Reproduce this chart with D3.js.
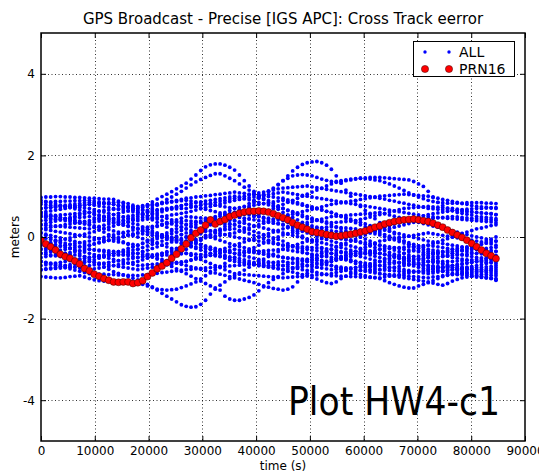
<!DOCTYPE html>
<html><head><meta charset="utf-8">
<script src="https://cdn.jsdelivr.net/npm/d3@7"></script>
<style>
html,body{margin:0;padding:0;background:#fff;}
svg{display:block;}
text{font-family:"DejaVu Sans",sans-serif;fill:#000;}
</style></head><body>
<svg id="chart" width="539" height="476"></svg>
<script>
// Epoch times (s), 15-minute sampling over the day
const timeSec = [0,900,1800,2700,3600,4500,5400,6300,7200,8100,
  9000,9900,10800,11700,12600,13500,14400,15300,16200,17100,
  18000,18900,19800,20700,21600,22500,23400,24300,25200,26100,
  27000,27900,28800,29700,30600,31500,32400,33300,34200,35100,
  36000,36900,37800,38700,39600,40500,41400,42300,43200,44100,
  45000,45900,46800,47700,48600,49500,50400,51300,52200,53100,
  54000,54900,55800,56700,57600,58500,59400,60300,61200,62100,
  63000,63900,64800,65700,66600,67500,68400,69300,70200,71100,
  72000,72900,73800,74700,75600,76500,77400,78300,79200,80100,
  81000,81900,82800,83700,84600];

// PRN16 cross-track error (m)
const prn16 = [-0.08,-0.17,-0.24,-0.32,-0.42,-0.48,-0.52,-0.59,-0.66,-0.77,
  -0.83,-0.91,-0.96,-1.02,-1.06,-1.10,-1.11,-1.10,-1.10,-1.14,
  -1.12,-1.07,-0.97,-0.88,-0.78,-0.71,-0.63,-0.52,-0.42,-0.29,
  -0.17,-0.02,0.09,0.17,0.29,0.42,0.32,0.38,0.43,0.50,
  0.54,0.58,0.61,0.63,0.63,0.64,0.63,0.61,0.57,0.52,
  0.47,0.42,0.35,0.29,0.24,0.19,0.13,0.11,0.09,0.06,
  0.04,0.02,0.03,0.05,0.07,0.09,0.12,0.15,0.19,0.24,
  0.27,0.32,0.35,0.38,0.40,0.42,0.43,0.44,0.42,0.40,
  0.38,0.34,0.29,0.24,0.17,0.11,0.05,-0.01,-0.08,-0.16,
  -0.24,-0.32,-0.40,-0.46,-0.53];

// Cross-track error of every satellite (cm), one array per satellite
const sv01 = [60,62,64,66,68,70,72,74,76,78,80,81,82,83,84,85,85,85,82,78,74,74,79,86,93,99,105,111,118,125,132,142,152,163,172,177,179,179,176,171,164,152,138,125,112,100,92,84,76,68,60,54,48,42,36,30,27,24,21,18,15,14,13,12,11,10,11,12,13,14,15,18,21,24,27,30,33,36,39,42,45,46,47,48,49,50,49,48,47,46,45,44,43,42,41];
const sv02 = [-30,-32,-34,-36,-38,-40,-42,-44,-46,-48,-50,-49,-48,-47,-46,-45,-44,-43,-42,-41,-40,-36,-32,-28,-24,-20,-16,-12,-8,-4,0,6,12,18,24,30,36,42,48,54,60,67,75,82,90,97,105,111,118,128,138,150,162,171,178,182,184,185,182,176,166,150,132,115,100,88,75,65,55,45,35,26,17,8,-1,-10,-18,-26,-34,-42,-50,-55,-60,-65,-70,-75,-77,-79,-81,-83,-85,-86,-87,-88,-90];
const sv03 = [30,29,28,27,26,25,24,23,22,21,20,23,26,29,32,35,38,41,44,47,50,57,64,71,78,85,92,98,105,112,120,128,135,141,146,151,155,155,150,144,138,130,122,115,108,102,95,89,82,76,70,65,60,55,50,45,43,41,39,37,35,36,37,38,39,40,43,46,49,52,55,58,61,64,67,70,71,72,73,74,75,74,73,72,71,70,68,66,64,62,60,59,58,57,55];
const sv04 = [0,-3,-6,-9,-12,-15,-18,-21,-24,-27,-30,-32,-34,-36,-38,-40,-42,-44,-46,-48,-50,-48,-46,-44,-42,-40,-38,-36,-34,-32,-30,-22,-15,-8,0,5,12,19,26,33,40,51,62,73,84,95,103,112,120,129,138,144,150,152,153,152,150,146,142,139,136,136,136,138,140,142,144,145,146,146,146,145,144,143,142,141,140,136,130,124,112,98,85,77,70,65,60,58,56,54,50,49,48,47,45];
const sv05 = [-60,-62,-64,-66,-68,-70,-72,-74,-76,-78,-80,-78,-76,-74,-72,-70,-68,-66,-64,-62,-60,-56,-52,-48,-44,-40,-36,-32,-28,-24,-20,-15,-10,-5,0,5,10,15,20,25,30,35,40,45,50,55,60,65,70,75,80,85,90,95,100,105,110,115,120,125,130,134,138,140,142,143,144,143,142,140,138,134,130,125,120,114,108,103,98,94,90,87,85,84,83,83,83,83,84,84,84,84,83,83,82];
const sv06 = [97,98,98,99,99,98,98,97,97,96,95,95,94,93,93,92,88,82,75,68,60,54,48,42,36,30,24,18,12,6,0,-6,-12,-18,-24,-30,-35,-40,-45,-50,-55,-58,-61,-64,-67,-70,-70,-70,-70,-70,-70,-67,-64,-61,-58,-55,-50,-45,-40,-35,-30,-25,-20,-15,-10,-5,0,5,10,15,20,24,28,32,36,40,43,46,49,52,55,57,59,61,63,65,66,67,68,69,70,70,71,71,72];
const sv07 = [10,4,-2,-8,-14,-20,-27,-34,-41,-48,-55,-61,-67,-73,-79,-85,-89,-93,-97,-101,-105,-110,-116,-122,-130,-138,-145,-152,-159,-166,-170,-172,-171,-165,-155,-140,-128,-118,-110,-102,-95,-88,-81,-74,-67,-60,-54,-48,-42,-36,-30,-26,-22,-18,-14,-10,-8,-6,-4,-2,0,-2,-4,-6,-8,-10,-14,-18,-22,-26,-30,-34,-38,-42,-46,-50,-52,-54,-56,-58,-60,-60,-60,-60,-60,-60,-59,-58,-57,-56,-55,-54,-53,-52,-50];
const sv08 = [50,48,46,44,42,40,38,36,34,32,30,24,18,12,6,0,-6,-12,-18,-24,-30,-36,-42,-48,-54,-60,-66,-72,-78,-84,-90,-96,-102,-108,-114,-120,-125,-130,-145,-152,-155,-155,-152,-148,-142,-132,-122,-112,-104,-97,-90,-84,-78,-72,-66,-60,-56,-52,-48,-44,-40,-39,-38,-37,-36,-35,-36,-37,-38,-39,-40,-42,-44,-46,-48,-50,-49,-48,-47,-46,-45,-42,-39,-36,-33,-30,-28,-26,-24,-22,-20,-18,-15,-12,-10];
const sv09 = [-50,-48,-46,-44,-42,-40,-38,-36,-34,-32,-30,-31,-32,-33,-34,-35,-36,-37,-38,-39,-40,-43,-46,-49,-52,-55,-58,-61,-64,-67,-70,-73,-76,-79,-82,-85,-88,-91,-94,-97,-100,-103,-106,-109,-112,-116,-120,-123,-126,-128,-130,-128,-122,-110,-98,-89,-80,-74,-68,-61,-55,-52,-49,-46,-43,-40,-40,-40,-40,-40,-40,-43,-46,-49,-52,-55,-59,-63,-67,-71,-75,-78,-81,-84,-87,-90,-92,-93,-94,-96,-98,-99,-100,-101,-102];
const sv10 = [-80,-79,-78,-77,-76,-75,-74,-73,-72,-71,-70,-68,-66,-64,-62,-60,-58,-56,-54,-52,-50,-49,-48,-47,-46,-45,-44,-43,-42,-41,-40,-41,-42,-43,-44,-45,-46,-47,-48,-49,-50,-53,-56,-59,-62,-65,-68,-71,-74,-77,-80,-83,-86,-89,-92,-95,-99,-103,-108,-112,-114,-110,-102,-96,-90,-86,-82,-81,-81,-80,-80,-81,-82,-83,-84,-85,-85,-85,-85,-85,-85,-84,-83,-82,-81,-80,-79,-78,-77,-76,-75,-74,-73,-72,-70];
const sv11 = [-30,-28,-26,-24,-22,-20,-18,-16,-14,-12,-10,-7,-4,-1,2,5,8,11,14,17,20,22,24,26,28,30,32,34,36,38,40,39,38,37,36,35,34,33,32,31,30,26,22,18,14,10,6,2,-2,-6,-10,-16,-22,-28,-34,-40,-46,-52,-58,-64,-70,-74,-78,-82,-86,-90,-92,-95,-98,-100,-102,-107,-112,-116,-120,-123,-125,-125,-120,-116,-112,-107,-102,-97,-92,-90,-88,-89,-90,-92,-95,-97,-100,-102,-105];
const sv12 = [-97,-98,-99,-100,-100,-99,-97,-96,-95,-98,-102,-105,-107,-108,-109,-110,-110,-110,-110,-111,-112,-116,-120,-124,-128,-129,-130,-129,-128,-124,-120,-115,-110,-103,-95,-88,-80,-72,-65,-57,-50,-44,-38,-32,-26,-20,-15,-10,-5,0,5,8,11,14,17,20,21,22,23,24,25,24,23,22,21,20,17,14,11,8,5,1,-3,-7,-11,-15,-19,-23,-27,-31,-35,-38,-41,-44,-47,-50,-52,-54,-56,-58,-60,-61,-62,-63,-65];
const sv13 = [70,71,72,73,74,75,76,77,78,79,80,78,76,74,72,70,68,66,64,62,60,56,52,48,44,40,36,32,28,24,20,16,12,8,4,0,-4,-8,-12,-16,-20,-23,-26,-29,-32,-35,-38,-41,-44,-47,-50,-52,-54,-56,-58,-60,-62,-64,-66,-68,-70,-72,-74,-76,-78,-80,-82,-84,-86,-88,-90,-92,-94,-96,-98,-100,-102,-104,-106,-108,-110,-113,-116,-118,-114,-108,-104,-100,-98,-96,-95,-96,-98,-101,-106];
const sv14 = [80,79,78,77,76,75,74,73,72,71,70,67,64,61,58,55,52,49,46,43,40,42,44,46,48,50,52,54,56,58,60,63,66,69,72,75,78,81,84,87,90,92,94,96,98,100,102,104,106,108,110,108,106,104,102,100,98,96,94,92,90,88,86,84,82,80,78,76,74,72,70,68,66,64,62,60,58,56,54,52,50,49,48,47,46,45,44,43,42,41,40,39,38,37,35];
const sv15 = [70,72,73,75,76,78,79,81,82,84,85,84,83,82,81,80,77,74,71,68,65,66,66,67,67,68,68,69,69,70,70,73,75,78,80,83,85,88,90,93,95,98,100,103,105,108,110,113,115,118,120,121,122,123,124,125,123,121,119,117,115,113,111,109,107,105,103,101,99,97,95,93,90,88,85,83,80,78,75,73,70,69,68,67,66,65,64,63,62,61,60,59,58,57,55];
const sv16 = [40,41,42,43,44,45,46,47,48,49,50,47,44,41,38,35,32,29,26,23,20,17,14,11,8,5,2,-1,-4,-7,-10,-8,-6,-4,-2,0,2,4,6,8,10,14,18,22,26,30,34,38,42,46,50,53,56,59,62,65,68,71,74,77,80,82,84,86,88,90,92,94,96,98,100,101,102,103,104,105,104,103,102,101,100,97,95,92,90,87,85,82,80,77,75,74,73,72,70];
const sv17 = [20,18,16,14,12,10,8,6,4,2,0,-2,-4,-6,-8,-10,-12,-14,-16,-18,-20,-16,-12,-8,-4,0,4,8,12,16,20,25,30,35,40,45,50,55,60,65,70,72,74,76,78,80,82,84,86,88,90,87,84,81,78,75,72,69,66,63,60,56,52,48,44,40,36,32,28,24,20,17,14,11,8,5,2,-1,-4,-7,-10,-12,-14,-16,-18,-20,-22,-24,-26,-28,-30,-31,-32,-33,-35];
const sv18 = [-40,-42,-44,-46,-48,-50,-52,-54,-56,-58,-60,-62,-64,-66,-68,-70,-72,-74,-76,-78,-80,-78,-76,-74,-72,-70,-68,-66,-64,-62,-60,-56,-52,-48,-44,-40,-36,-32,-28,-24,-20,-16,-12,-8,-4,0,4,8,12,16,20,23,26,29,32,35,38,41,44,47,50,51,52,53,54,55,56,57,58,59,60,57,54,51,48,45,42,39,36,33,30,27,24,21,18,15,12,9,6,3,0,-2,-5,-7,-10];
const sv19 = [-60,-63,-66,-69,-72,-75,-78,-81,-84,-87,-90,-90,-91,-91,-92,-92,-93,-93,-94,-94,-95,-93,-92,-90,-89,-87,-86,-84,-83,-81,-80,-79,-78,-77,-76,-75,-74,-73,-72,-71,-70,-69,-68,-67,-66,-65,-64,-63,-62,-61,-60,-62,-64,-66,-68,-70,-72,-74,-76,-78,-80,-79,-78,-77,-76,-75,-74,-73,-72,-71,-70,-68,-66,-64,-62,-60,-58,-56,-54,-52,-50,-49,-48,-47,-46,-45,-44,-43,-42,-41,-40,-39,-38,-37,-35];
const sv20 = [60,57,54,51,48,45,42,39,36,33,30,27,24,21,18,15,12,9,6,3,0,-4,-8,-12,-16,-20,-24,-28,-32,-36,-40,-45,-50,-55,-60,-65,-70,-75,-80,-85,-90,-91,-92,-93,-94,-95,-96,-97,-98,-99,-100,-99,-98,-97,-96,-95,-94,-93,-92,-91,-90,-87,-84,-81,-78,-75,-72,-69,-66,-63,-60,-56,-52,-48,-44,-40,-36,-32,-28,-24,-20,-16,-12,-8,-4,0,4,8,12,16,20,22,25,28,30];
const sv21 = [-20,-17,-14,-11,-8,-5,-2,1,4,7,10,13,17,20,24,27,31,34,38,41,45,48,52,55,59,62,66,69,73,76,80,82,84,86,88,90,92,94,96,98,100,97,94,91,88,85,82,79,76,73,70,66,62,58,54,50,46,42,38,34,30,25,20,15,10,5,0,-5,-10,-15,-20,-24,-28,-32,-36,-40,-44,-48,-52,-56,-60,-62,-64,-66,-68,-70,-72,-74,-76,-78,-80,-81,-82,-83,-85];
const sv22 = [10,7,4,1,-2,-5,-8,-11,-14,-17,-20,-17,-14,-11,-8,-5,-2,1,4,7,10,14,18,22,26,30,34,38,42,46,50,49,48,47,46,45,44,43,42,41,40,37,34,31,28,25,22,19,16,13,10,7,4,1,-2,-5,-8,-11,-14,-17,-20,-23,-26,-29,-32,-35,-38,-41,-44,-47,-50,-53,-56,-59,-62,-65,-68,-71,-74,-77,-80,-78,-76,-74,-72,-70,-68,-66,-64,-62,-60,-58,-56,-53,-50];
const sv23 = [50,51,52,53,54,55,56,57,58,59,60,57,54,51,48,45,42,39,36,33,30,25,20,15,10,5,0,-5,-10,-15,-20,-22,-24,-26,-28,-30,-32,-34,-36,-38,-40,-39,-38,-37,-36,-35,-34,-33,-32,-31,-30,-32,-34,-36,-38,-40,-42,-44,-46,-48,-50,-52,-54,-56,-58,-60,-62,-64,-66,-68,-70,-72,-74,-76,-78,-80,-82,-84,-86,-88,-90,-88,-86,-84,-82,-80,-78,-76,-74,-72,-70,-68,-65,-62,-60];
const sv24 = [-10,-13,-16,-19,-22,-25,-28,-31,-34,-37,-40,-43,-46,-49,-52,-55,-58,-61,-64,-67,-70,-69,-68,-67,-66,-65,-64,-63,-62,-61,-60,-57,-54,-51,-48,-45,-42,-39,-36,-33,-30,-32,-34,-36,-38,-40,-42,-44,-46,-48,-50,-51,-52,-53,-54,-55,-56,-57,-58,-59,-60,-57,-54,-51,-48,-45,-42,-39,-36,-33,-30,-29,-28,-27,-26,-25,-24,-23,-22,-21,-20,-22,-24,-26,-28,-30,-32,-34,-36,-38,-40,-41,-42,-44,-45];
const sv25 = [85,86,86,87,87,88,88,89,89,90,90,88,86,84,82,80,78,76,74,72,70,66,62,58,54,50,46,42,38,34,30,27,24,21,18,15,12,9,6,3,0,-2,-4,-6,-8,-10,-12,-14,-16,-18,-20,-21,-22,-23,-24,-25,-26,-27,-28,-29,-30,-33,-36,-39,-42,-45,-48,-51,-54,-57,-60,-61,-62,-63,-64,-65,-66,-67,-68,-69,-70,-72,-74,-76,-78,-80,-82,-84,-86,-88,-90,-91,-92,-94,-95];
const sv26 = [-80,-78,-76,-74,-72,-70,-68,-66,-64,-62,-60,-56,-52,-48,-44,-40,-36,-32,-28,-24,-20,-15,-10,-5,0,5,10,15,20,25,30,33,36,39,42,45,48,51,54,57,60,58,56,54,52,50,48,46,44,42,40,36,32,28,24,20,16,12,8,4,0,-2,-4,-6,-8,-10,-12,-14,-16,-18,-20,-22,-24,-26,-28,-30,-32,-34,-36,-38,-40,-39,-38,-37,-36,-35,-34,-33,-32,-31,-30,-29,-28,-26,-25];
const sv27 = [30,33,36,39,42,45,48,51,54,57,60,62,63,65,66,68,69,71,72,74,75,77,78,80,81,83,84,86,87,89,90,88,86,84,82,80,78,76,74,72,70,66,62,58,54,50,46,42,38,34,30,26,22,18,14,10,6,2,-2,-6,-10,-13,-16,-19,-22,-25,-28,-31,-34,-37,-40,-43,-46,-49,-52,-55,-58,-61,-64,-67,-70,-71,-72,-73,-74,-75,-76,-77,-78,-79,-80,-79,-78,-77,-75];
const sv28 = [-40,-38,-36,-34,-32,-30,-28,-26,-24,-22,-20,-17,-14,-11,-8,-5,-2,1,4,7,10,8,6,4,2,0,-2,-4,-6,-8,-10,-13,-16,-19,-22,-25,-28,-31,-34,-37,-40,-43,-46,-49,-52,-55,-58,-61,-64,-67,-70,-72,-75,-77,-80,-82,-85,-87,-90,-92,-95,-95,-96,-96,-97,-97,-98,-98,-99,-99,-100,-98,-96,-94,-92,-90,-88,-86,-84,-82,-80,-78,-76,-74,-72,-70,-68,-66,-64,-62,-60,-59,-58,-56,-55];
const sv29 = [90,87,84,81,78,75,72,69,66,63,60,56,52,48,44,40,36,32,28,24,20,16,12,8,4,0,-4,-8,-12,-16,-20,-24,-28,-32,-36,-40,-44,-48,-52,-56,-60,-62,-64,-66,-68,-70,-72,-74,-76,-78,-80,-78,-76,-74,-72,-70,-68,-66,-64,-62,-60,-55,-50,-45,-40,-35,-30,-25,-20,-15,-10,-8,-6,-4,-2,0,2,4,6,8,10,8,6,4,2,0,-2,-4,-6,-8,-10,-12,-15,-17,-20];
const sv30 = [20,22,24,26,28,30,32,34,36,38,40,43,46,49,52,55,58,61,64,67,70,72,75,77,80,82,85,87,90,92,95,96,98,99,101,102,104,105,107,108,110,108,107,105,104,102,101,99,98,96,95,91,88,84,81,77,74,70,67,63,60,55,50,45,40,35,30,25,20,15,10,6,2,-2,-6,-10,-14,-18,-22,-26,-30,-32,-34,-36,-38,-40,-42,-44,-46,-48,-50,-51,-52,-54,-55];
const sv31 = [-70,-68,-66,-64,-62,-60,-58,-56,-54,-52,-50,-48,-46,-44,-42,-40,-38,-36,-34,-32,-30,-26,-22,-18,-14,-10,-6,-2,2,6,10,11,12,13,14,15,16,17,18,19,20,16,12,8,4,0,-4,-8,-12,-16,-20,-22,-24,-26,-28,-30,-32,-34,-36,-38,-40,-45,-50,-55,-60,-65,-70,-75,-80,-85,-90,-91,-92,-93,-94,-95,-96,-97,-98,-99,-100,-98,-97,-95,-94,-92,-91,-89,-88,-86,-85,-84,-83,-81,-80];
const sv32 = [55,53,51,49,47,45,43,41,39,37,35,37,39,41,43,45,47,49,51,53,55,57,60,62,65,67,70,72,75,77,80,77,74,71,68,65,62,59,56,53,50,48,46,44,42,40,38,36,34,32,30,23,16,9,2,-5,-12,-19,-26,-33,-40,-44,-48,-52,-56,-60,-64,-68,-72,-76,-80,-78,-76,-74,-72,-70,-68,-66,-64,-62,-60,-56,-52,-48,-44,-40,-36,-32,-28,-24,-20,-15,-10,-5,0];

const allTracks = [sv01,sv02,sv03,sv04,sv05,sv06,sv07,sv08,sv09,sv10,sv11,
  sv12,sv13,sv14,sv15,sv16,sv17,sv18,sv19,sv20,sv21,sv22,
  sv23,sv24,sv25,sv26,sv27,sv28,sv29,sv30,sv31,sv32];

const xTicks = [0,10000,20000,30000,40000,50000,60000,70000,80000,90000];
const yTicks = [-4,-2,0,2,4];
const legendLabels = ["ALL","PRN16"];
const titleText = "GPS Broadcast - Precise [IGS APC]: Cross Track eerror";
const xLabel = "time (s)";
const yLabel = "meters";
const stampText = "Plot HW4-c1";

const W = 539, H = 476;
const plot = {left: 41, top: 33, right: 525, bottom: 441};

const svg = d3.select("#chart");
svg.append("rect").attr("width", W).attr("height", H).attr("fill", "#fff");

const x = d3.scaleLinear().domain([0, 90000]).range([plot.left, plot.right]);
const y = d3.scaleLinear().domain([-5, 5]).range([plot.bottom, plot.top]);

svg.append("defs").append("clipPath").attr("id", "plotClip")
  .append("rect")
  .attr("x", plot.left).attr("y", plot.top)
  .attr("width", plot.right - plot.left).attr("height", plot.bottom - plot.top);

// dotted grid
const grid = svg.append("g").attr("stroke", "#000").attr("stroke-width", 0.8)
  .attr("stroke-dasharray", "1,2.5");
grid.selectAll("line.gx").data(xTicks.slice(1, -1)).join("line")
  .attr("x1", d => Math.round(x(d)) + 0.5).attr("x2", d => Math.round(x(d)) + 0.5)
  .attr("y1", plot.top).attr("y2", plot.bottom);
grid.selectAll("line.gy").data(yTicks).join("line")
  .attr("y1", d => Math.round(y(d)) + 0.5).attr("y2", d => Math.round(y(d)) + 0.5)
  .attr("x1", plot.left).attr("x2", plot.right);

// all satellites
const pts = [];
allTracks.forEach(tr => tr.forEach((v, i) => pts.push([timeSec[i], v / 100])));
const marks = svg.append("g").attr("clip-path", "url(#plotClip)");
marks.append("g").selectAll("circle").data(pts).join("circle")
  .attr("cx", d => x(d[0])).attr("cy", d => y(d[1]))
  .attr("r", 1.9).attr("fill", "#0000ff");

// PRN16
marks.append("g").selectAll("circle").data(prn16).join("circle")
  .attr("cx", (d, i) => x(timeSec[i])).attr("cy", d => y(d))
  .attr("r", 3.5).attr("fill", "#ff0000")
  .attr("stroke", "#3a0000").attr("stroke-width", 0.5);

// axes with inward ticks on all four sides
const tickLen = 5;
const axB = d3.axisBottom(x).tickValues(xTicks).tickSize(-tickLen).tickPadding(5)
  .tickFormat(d => String(d));
const axT = d3.axisTop(x).tickValues(xTicks).tickSize(-tickLen).tickFormat("");
const axL = d3.axisLeft(y).tickValues(yTicks).tickSize(-tickLen).tickPadding(6)
  .tickFormat(d => String(d));
const axR = d3.axisRight(y).tickValues(yTicks).tickSize(-tickLen).tickFormat("");

function styleAxis(g) {
  g.select(".domain").remove();
  g.selectAll(".tick line").attr("stroke", "#000").attr("stroke-width", 1);
  g.selectAll(".tick text").attr("font-family", "DejaVu Sans")
    .attr("font-size", 12).attr("fill", "#000");
}
svg.append("g").attr("transform", `translate(0,${plot.bottom})`).call(axB).call(styleAxis);
svg.append("g").attr("transform", `translate(0,${plot.top})`).call(axT).call(styleAxis);
svg.append("g").attr("transform", `translate(${plot.left},0)`).call(axL).call(styleAxis);
svg.append("g").attr("transform", `translate(${plot.right},0)`).call(axR).call(styleAxis);

// frame
svg.append("rect")
  .attr("x", plot.left).attr("y", plot.top)
  .attr("width", plot.right - plot.left).attr("height", plot.bottom - plot.top)
  .attr("fill", "none").attr("stroke", "#000").attr("stroke-width", 1.5);

// title and axis labels
svg.append("text").attr("x", 283).attr("y", 24).attr("text-anchor", "middle")
  .attr("font-size", 15).text(titleText);
svg.append("text").attr("x", 283).attr("y", 470).attr("text-anchor", "middle")
  .attr("font-size", 12).text(xLabel);
svg.append("text").attr("transform", `translate(19,${(plot.top + plot.bottom) / 2}) rotate(-90)`)
  .attr("text-anchor", "middle").attr("font-size", 12).text(yLabel);

// legend
const lg = svg.append("g");
lg.append("rect").attr("x", 413.5).attr("y", 41.5).attr("width", 101).attr("height", 35)
  .attr("fill", "#fff").attr("stroke", "#000").attr("stroke-width", 1);
const rowsY = [52, 69];
const markerX = [425, 449];
lg.selectAll("circle.a").data(markerX).join("circle")
  .attr("cx", d => d).attr("cy", rowsY[0]).attr("r", 1.7).attr("fill", "#0000ff");
lg.selectAll("circle.b").data(markerX).join("circle")
  .attr("cx", d => d).attr("cy", rowsY[1]).attr("r", 3.6).attr("fill", "#ff0000")
  .attr("stroke", "#3a0000").attr("stroke-width", 0.5);
lg.selectAll("text").data(legendLabels).join("text")
  .attr("x", 459).attr("y", (d, i) => rowsY[i] + 5).attr("font-size", 14).text(d => d);

// stamp
svg.append("text").attr("x", 288).attr("y", 415)
  .attr("font-family", "Lato, 'Open Sans', sans-serif").attr("font-size", 39)
  .attr("textLength", 212).attr("lengthAdjust", "spacingAndGlyphs")
  .text(stampText);
</script>
</body></html>
